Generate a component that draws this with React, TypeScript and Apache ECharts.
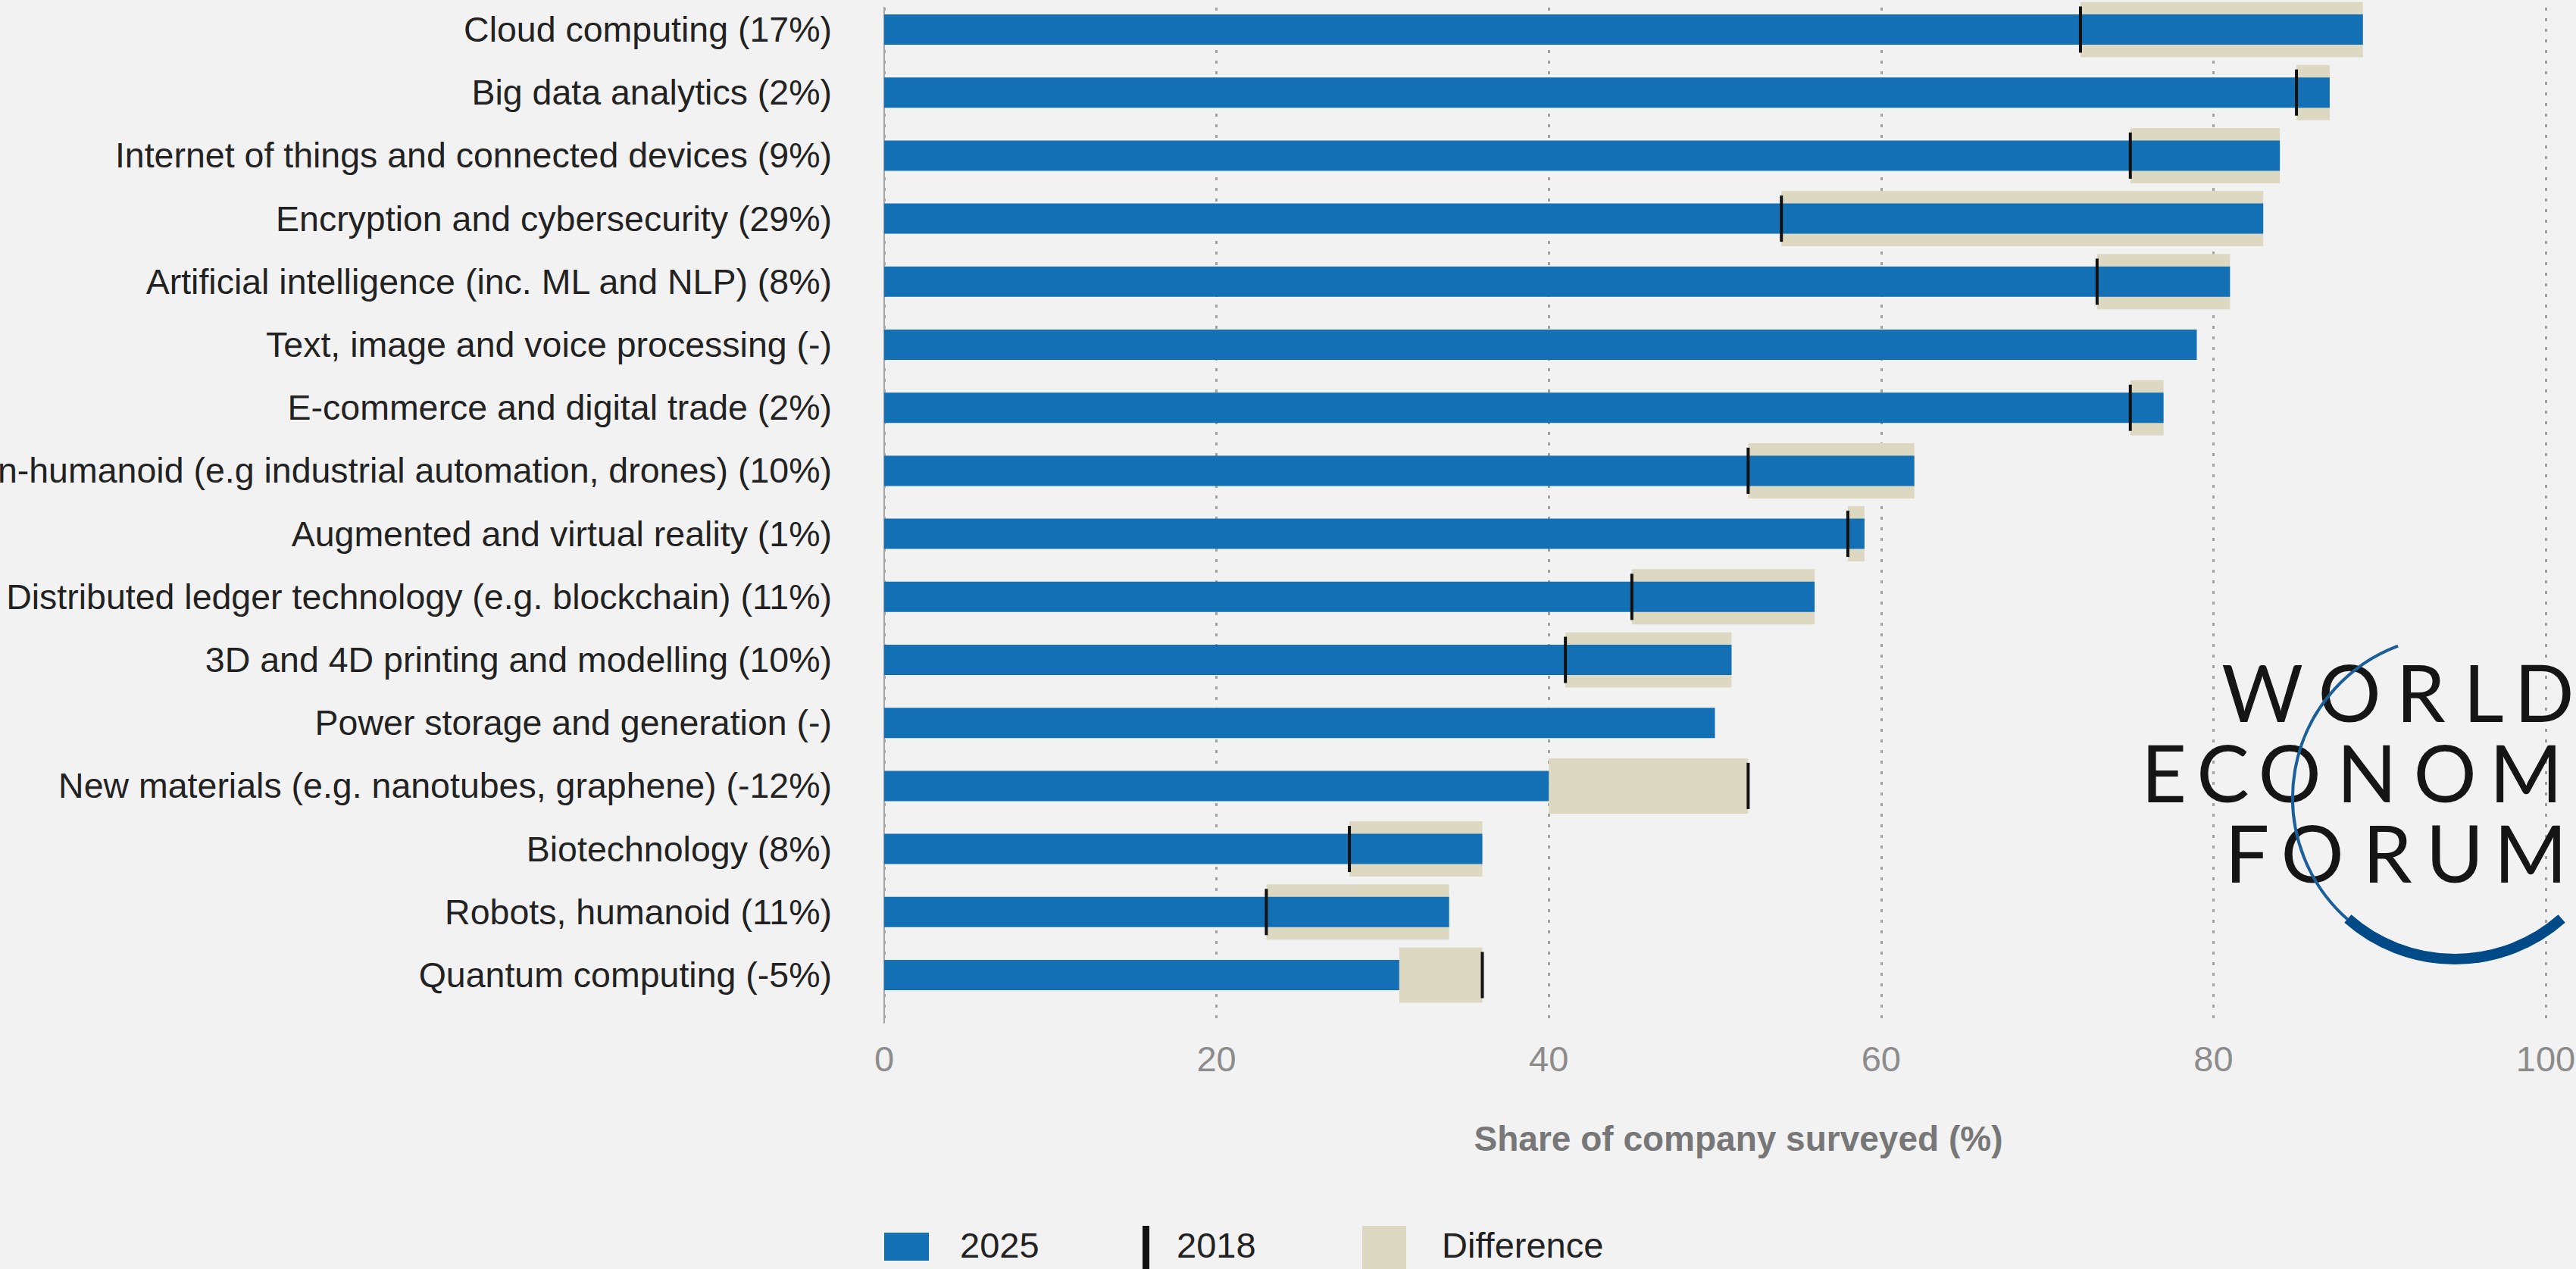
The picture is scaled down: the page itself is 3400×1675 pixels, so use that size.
import React, { useEffect, useRef } from "react";
import * as echarts from "echarts";

const categories = [
  "Cloud computing (17%)",
  "Big data analytics (2%)",
  "Internet of things and connected devices (9%)",
  "Encryption and cybersecurity (29%)",
  "Artificial intelligence (inc. ML and NLP) (8%)",
  "Text, image and voice processing (-)",
  "E-commerce and digital trade (2%)",
  "Robots, non-humanoid (e.g industrial automation, drones) (10%)",
  "Augmented and virtual reality (1%)",
  "Distributed ledger technology (e.g. blockchain) (11%)",
  "3D and 4D printing and modelling (10%)",
  "Power storage and generation (-)",
  "New materials (e.g. nanotubes, graphene) (-12%)",
  "Biotechnology (8%)",
  "Robots, humanoid (11%)",
  "Quantum computing (-5%)",
];

const values2025 = [89, 87, 84, 83, 81, 79, 77, 62, 59, 56, 51, 50, 40, 36, 34, 31];
const values2018: (number | null)[] = [72, 85, 75, 54, 73, null, 75, 52, 58, 45, 41, null, 52, 28, 23, 36];

const axisMin = 0;
const axisMax = 100;
const axisStep = 20;
const axisTitle = "Share of company surveyed (%)";
const legendLabels = ["2025", "2018", "Difference"];
const logoLines = ["WORLD", "ECONOM", "FORUM"];

const BLUE = "#1470b4";
const BEIGE = "#ddd8c2";
const MARK = "#111111";
const BG = "#f2f2f2";
const FONT = "'Liberation Sans', Arial, sans-serif";

function buildOption() {
  const lows = values2018.map((v, i) => (v == null ? null : Math.min(v, values2025[i])));
  const diffs = values2018.map((v, i) => (v == null ? null : Math.abs(values2025[i] - v)));
  const marks = values2018
    .map((v, i) => (v == null ? null : [v, i]))
    .filter((d) => d !== null);

  // logo letter centres
  const logoLayout = [
    { y: 912, xs: [2986, 3101, 3195, 3278, 3358] },
    { y: 1018, xs: [2856, 2934, 3022, 3124, 3227, 3334] },
    { y: 1124, xs: [2966, 3052, 3151, 3240, 3340] },
  ];
  const logoTexts: any[] = [];
  logoLines.forEach((line, li) => {
    line.split("").forEach((ch, ci) => {
      logoTexts.push({
        type: "text",
        x: logoLayout[li].xs[ci],
        y: logoLayout[li].y,
        z: 10,
        style: {
          text: ch,
          fill: "#151515",
          font: "400 104px Lato, 'DejaVu Sans', sans-serif",
          lineHeight: 84,
          textAlign: "center",
          textVerticalAlign: "middle",
        },
      });
    });
  });

  const legendY = 1643;
  const legendGraphics: any[] = [
    { type: "rect", x: 1167, y: 1627, shape: { width: 59, height: 37 }, style: { fill: BLUE }, z: 10 },
    { type: "text", x: 1267, y: legendY, style: { text: legendLabels[0], fill: "#222", font: `47px ${FONT}`, textVerticalAlign: "middle" }, z: 10 },
    { type: "rect", x: 1508, y: 1618, shape: { width: 9, height: 70 }, style: { fill: MARK }, z: 10 },
    { type: "text", x: 1553, y: legendY, style: { text: legendLabels[1], fill: "#222", font: `47px ${FONT}`, textVerticalAlign: "middle" }, z: 10 },
    { type: "rect", x: 1798, y: 1618, shape: { width: 58, height: 70 }, style: { fill: BEIGE }, z: 10 },
    { type: "text", x: 1903, y: legendY, style: { text: legendLabels[2], fill: "#222", font: `47px ${FONT}`, textVerticalAlign: "middle" }, z: 10 },
  ];

  const arcs: any[] = [
    {
      type: "arc",
      z: 11,
      shape: { cx: 3240, cy: 1053, r: 214, startAngle: (131 * Math.PI) / 180, endAngle: (249.5 * Math.PI) / 180, clockwise: true },
      style: { stroke: "#1a5e9c", lineWidth: 4, fill: "none" },
    },
    {
      type: "arc",
      z: 11,
      shape: { cx: 3240, cy: 1053, r: 213, startAngle: (48.5 * Math.PI) / 180, endAngle: (131.5 * Math.PI) / 180, clockwise: true },
      style: { stroke: "#004a87", lineWidth: 14, fill: "none" },
    },
  ];

  return {
    animation: false,
    backgroundColor: BG,
    textStyle: { fontFamily: FONT },
    grid: [
      { left: 1167, top: 10, width: 2193, height: 1340, outerBoundsMode: "none", containLabel: false },
      { left: 1167, top: -2.6, width: 2193, height: 1331.2, outerBoundsMode: "none", containLabel: false },
    ],
    xAxis: [
      {
        gridIndex: 0,
        type: "value",
        min: axisMin,
        max: axisMax,
        interval: axisStep,
        axisLine: { show: false },
        axisTick: { show: false },
        axisLabel: { color: "#8c8c8c", fontSize: 47, fontFamily: FONT, margin: 47, verticalAlign: "middle" },
        splitLine: { show: true, lineStyle: { color: "#a2a2a2", width: 3, type: [4, 10] } },
        name: axisTitle,
        nameLocation: "middle",
        nameGap: 153,
        nameTextStyle: {
          color: "#777777",
          fontSize: 46,
          fontWeight: "bold",
          fontFamily: FONT,
          verticalAlign: "middle",
          padding: [0, 0, 0, 62],
        },
      },
      { gridIndex: 1, type: "value", min: axisMin, max: axisMax, show: false },
    ],
    yAxis: [
      {
        gridIndex: 0,
        type: "value",
        min: 0,
        max: 1,
        axisLine: { show: true, onZero: false, lineStyle: { color: "#a6a6a6", width: 2 } },
        axisTick: { show: false },
        axisLabel: { show: false },
        splitLine: { show: false },
      },
      {
        gridIndex: 1,
        type: "category",
        data: categories,
        inverse: true,
        axisLine: { show: false },
        axisTick: { show: false },
        axisLabel: { color: "#222222", fontSize: 46.5, fontFamily: FONT, margin: 69, interval: 0, padding: [0, 0, 4, 0] },
        splitLine: { show: false },
      },
      { gridIndex: 1, type: "category", data: categories, inverse: true, show: false },
    ],
    series: [
      {
        name: "base",
        type: "bar",
        xAxisIndex: 1,
        yAxisIndex: 2,
        stack: "diff",
        barWidth: 73,
        silent: true,
        itemStyle: { color: "rgba(0,0,0,0)" },
        data: lows,
      },
      {
        name: "Difference",
        type: "bar",
        xAxisIndex: 1,
        yAxisIndex: 2,
        stack: "diff",
        barWidth: 73,
        itemStyle: { color: BEIGE },
        data: diffs,
      },
      {
        name: "2025",
        type: "bar",
        xAxisIndex: 1,
        yAxisIndex: 1,
        barWidth: 40,
        itemStyle: { color: BLUE },
        data: values2025,
        z: 3,
      },
      {
        name: "2018",
        type: "scatter",
        xAxisIndex: 1,
        yAxisIndex: 1,
        symbol: "rect",
        symbolSize: [4, 61],
        itemStyle: { color: MARK, opacity: 1 },
        data: marks,
        z: 4,
      },
    ],
    graphic: [...logoTexts, ...arcs, ...legendGraphics],
  };
}

export default function App() {
  const ref = useRef<HTMLDivElement>(null);
  useEffect(() => {
    document.body.style.margin = "0";
    document.body.style.background = BG;
    const chart = echarts.init(ref.current as HTMLDivElement, null, { renderer: "svg" });
    chart.setOption(buildOption() as any);
    return () => {
      chart.dispose();
    };
  }, []);
  return <div ref={ref} style={{ width: 3400, height: 1675 }} />;
}
